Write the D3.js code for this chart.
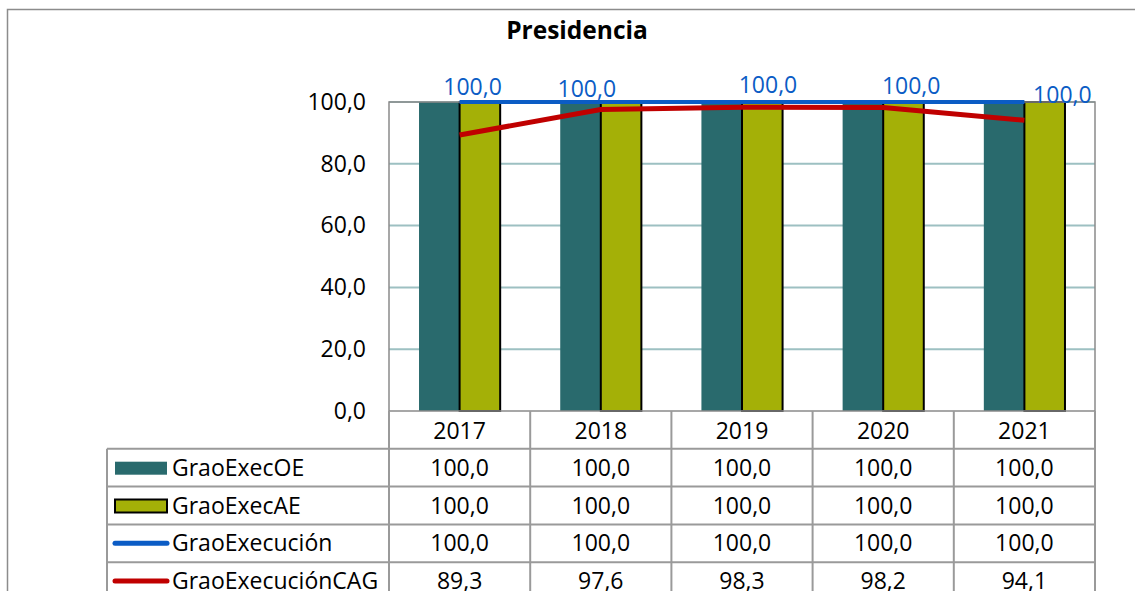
<!DOCTYPE html>
<html>
<head>
<meta charset="utf-8">
<script src="https://cdn.jsdelivr.net/npm/d3@7"></script>
<style>
  body { margin: 0; background: #fff; }
  svg text { font-family: "Open Sans", "Noto Sans", sans-serif; }
</style>
</head>
<body>
<svg id="chart" width="1135" height="591"></svg>
<script>
// data
var years = ["2017", "2018", "2019", "2020", "2021"];
var graoExecOE = [100.0, 100.0, 100.0, 100.0, 100.0];
var graoExecAE = [100.0, 100.0, 100.0, 100.0, 100.0];
var graoExecucion = [100.0, 100.0, 100.0, 100.0, 100.0];
var graoExecucionCAG = [89.3, 97.6, 98.3, 98.2, 94.1];
var yTicks = [0, 20, 40, 60, 80, 100];

// hand-moved data labels of the blue series (pixels)
var labelDx = [13, -14, 26, 28, 38];
var labelDy = [-7, -5, -9, -8, 1];

var colOE = "#296a6d", colAE = "#a4b007", colBlue = "#0b5cc5", colRed = "#c00000";
var gridCol = "#9dc0c2", tableCol = "#9a9a9a";
var fs = "23px";

var fmt = function (v) { return d3.format(".1f")(v).replace(".", ","); };

var svg = d3.select("#chart");

// outer frame
svg.append("rect")
  .attr("x", 7.5).attr("y", 9.5)
  .attr("width", 1200).attr("height", 700)
  .style("fill", "none").style("stroke", "#8c8c8c").style("stroke-width", 1.5);

svg.append("text")
  .attr("x", 577).attr("y", 39)
  .attr("text-anchor", "middle")
  .style("font-size", "24.5px").style("font-weight", "bold")
  .text("Presidencia");

var plotL = 389, plotR = 1095, plotT = 102, plotB = 411;

var x = d3.scaleBand().domain(years).range([plotL, plotR]);
var y = d3.scaleLinear().domain([0, 100]).range([plotB, plotT]);
var inner = d3.scaleBand().domain(["OE", "AE"]).range([0, x.bandwidth()]).paddingOuter(0.74).paddingInner(0);

// gridlines
svg.append("g").selectAll("line")
  .data(yTicks.filter(function (d) { return d > 0; }))
  .enter().append("line")
  .attr("x1", plotL).attr("x2", plotR)
  .attr("y1", function (d) { return y(d); })
  .attr("y2", function (d) { return y(d); })
  .style("stroke", gridCol).style("stroke-width", 2);

// y axis labels
var yAxis = d3.axisLeft(y).tickValues(yTicks).tickFormat(fmt).tickSize(0).tickPadding(23);
var ya = svg.append("g").attr("transform", "translate(" + plotL + ",0)").call(yAxis);
ya.select(".domain").remove();
ya.selectAll("text").style("font-size", fs).style("fill", "#000")
  .style("font-family", "'Open Sans', 'Noto Sans', sans-serif");

// bars
var groups = svg.append("g").selectAll("g")
  .data(years).enter().append("g")
  .attr("transform", function (d) { return "translate(" + x(d) + ",0)"; });

groups.append("rect")
  .attr("x", inner("OE"))
  .attr("width", inner.bandwidth())
  .attr("y", function (d, i) { return y(graoExecOE[i]); })
  .attr("height", function (d, i) { return y(0) - y(graoExecOE[i]); })
  .style("fill", colOE);

groups.append("rect")
  .attr("x", inner("AE"))
  .attr("width", inner.bandwidth())
  .attr("y", function (d, i) { return y(graoExecAE[i]); })
  .attr("height", function (d, i) { return y(0) - y(graoExecAE[i]); })
  .style("fill", colAE).style("stroke", "#000").style("stroke-width", 2);

// plot area border
svg.append("rect")
  .attr("x", plotL).attr("y", plotT)
  .attr("width", plotR - plotL).attr("height", plotB - plotT)
  .style("fill", "none").style("stroke", "#8a8a8a").style("stroke-width", 1.5);

// lines
var cx = function (d) { return x(d) + x.bandwidth() / 2; };
var line = function (vals) {
  return d3.line()
    .x(function (d, i) { return cx(years[i]); })
    .y(function (d) { return y(d); })(vals);
};
svg.append("path").attr("d", line(graoExecucion))
  .style("fill", "none").style("stroke", colBlue).style("stroke-width", 4);
svg.append("path").attr("d", line(graoExecucionCAG))
  .style("fill", "none").style("stroke", colRed).style("stroke-width", 5)
  .style("stroke-linejoin", "round");

// blue data labels
svg.append("g").selectAll("text")
  .data(graoExecucion).enter().append("text")
  .attr("x", function (d, i) { return cx(years[i]) + labelDx[i]; })
  .attr("y", function (d, i) { return y(d) + labelDy[i]; })
  .attr("text-anchor", "middle")
  .style("font-size", fs).style("fill", colBlue)
  .text(fmt);

// data table
var rowH = 37.8;
var tableLeft = 107;
var series = [
  { name: "GraoExecOE", vals: graoExecOE, key: "barFlat", col: colOE },
  { name: "GraoExecAE", vals: graoExecAE, key: "barLine", col: colAE },
  { name: "GraoExecución", vals: graoExecucion, key: "line", col: colBlue },
  { name: "GraoExecuciónCAG", vals: graoExecucionCAG, key: "line", col: colRed }
];

var tbl = svg.append("g");
// header row
tbl.selectAll(".yr").data(years).enter().append("text")
  .attr("x", cx).attr("y", plotB + 28)
  .attr("text-anchor", "middle")
  .style("font-size", fs)
  .text(function (d) { return d; });

// horizontal lines
for (var r = 1; r <= series.length + 1; r++) {
  tbl.append("line")
    .attr("x1", tableLeft).attr("x2", plotR)
    .attr("y1", plotB + r * rowH).attr("y2", plotB + r * rowH)
    .style("stroke", tableCol).style("stroke-width", 2);
}
// vertical lines
years.concat(["end"]).forEach(function (d, i) {
  var xx = i < years.length ? x(d) : plotR;
  tbl.append("line")
    .attr("x1", xx).attr("x2", xx)
    .attr("y1", plotB).attr("y2", 600)
    .style("stroke", tableCol).style("stroke-width", 2);
});
tbl.append("line")
  .attr("x1", tableLeft).attr("x2", tableLeft)
  .attr("y1", plotB + rowH).attr("y2", 600)
  .style("stroke", tableCol).style("stroke-width", 2);

series.forEach(function (s, r) {
  var mid = plotB + (r + 1.5) * rowH;
  if (s.key === "line") {
    tbl.append("line")
      .attr("x1", 115).attr("x2", 167).attr("y1", mid).attr("y2", mid)
      .style("stroke", s.col).style("stroke-width", 5).style("stroke-linecap", "round");
  } else {
    tbl.append("rect")
      .attr("x", 115).attr("y", mid - 6).attr("width", 52).attr("height", 13)
      .style("fill", s.col)
      .style("stroke", s.key === "barLine" ? "#000" : "none")
      .style("stroke-width", 2);
  }
  tbl.append("text")
    .attr("x", 172).attr("y", mid + 8)
    .style("font-size", fs)
    .text(s.name);
  tbl.selectAll(null).data(s.vals).enter().append("text")
    .attr("x", function (d, i) { return cx(years[i]); })
    .attr("y", mid + 8)
    .attr("text-anchor", "middle")
    .style("font-size", fs)
    .text(fmt);
});
</script>
</body>
</html>
